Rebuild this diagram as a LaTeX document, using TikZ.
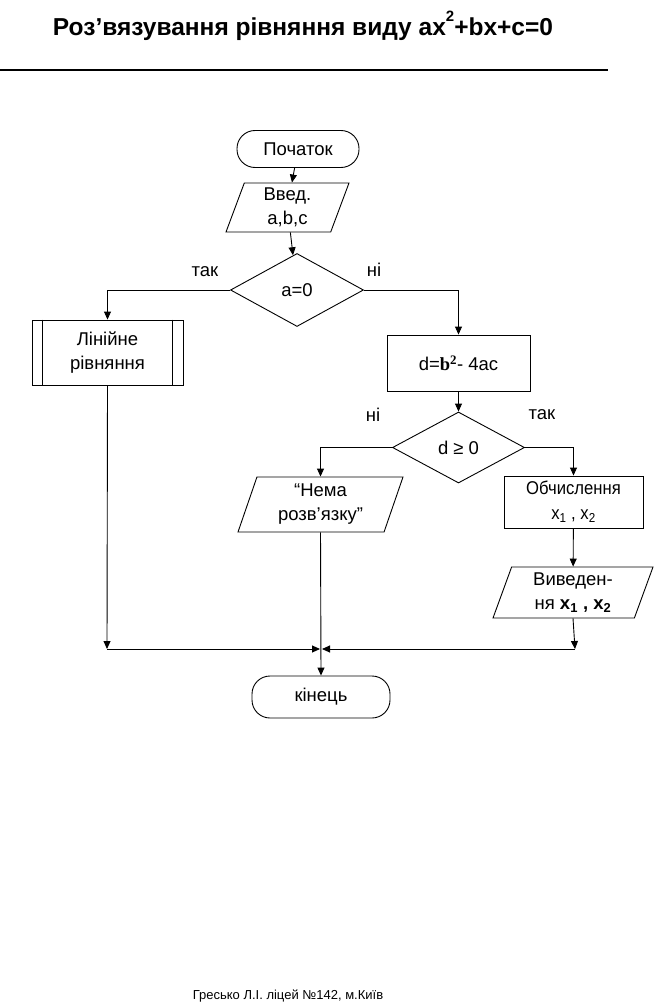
\documentclass[tikz,border=0pt]{standalone}
\usepackage{fontspec}
\setmainfont{Liberation Sans}
\newfontfamily\serifb{Liberation Serif}
\newfontfamily\narrowa[FakeStretch=0.9]{Liberation Sans}
\usetikzlibrary{shapes.geometric,arrows.meta}
\begin{document}
\begin{tikzpicture}[x=1pt,y=-1pt,
  every node/.style={font=\fontsize{18.5}{24}\selectfont, align=center},
  box/.style={draw, line width=0.9pt, inner sep=1pt},
  term/.style={box, rounded corners=18pt},
  io/.style={box, trapezium, trapezium left angle=66, trapezium right angle=114, trapezium stretches body},
  dec/.style={box, diamond, inner sep=0pt},
  line/.style={line width=0.9pt},
  arr/.style={line, -{Triangle[length=8pt,width=7pt]}},
  lbl/.style={font=\fontsize{18.5}{24}\selectfont}]
\useasboundingbox (0,0) rectangle (654,1006);
\node[font=\fontsize{24.5}{28}\selectfont\bfseries] (title) at (303,26) {Роз’вязування рівняння виду ax\raisebox{0.55em}{\fontsize{15}{15}\selectfont 2}+bx+c=0};
\draw[line width=1.5pt] (0,70) coordinate (hl) -- (608,70) coordinate (hr);

\node[term, minimum width=122pt, minimum height=37pt] (start) at (298,149) {Початок};
\node[io, minimum width=123pt, minimum height=49pt] (in) at (287.5,207.5) {Введ.\\a,b,c};
\node[dec, minimum width=133pt, minimum height=73pt] (d1) at (297,290) {a=0};
\node[box, minimum width=151pt, minimum height=65pt] (lin) at (107.5,352.5) {Лінійне\\рівняння};
\draw[line] ([xshift=11pt]lin.north west) -- ([xshift=11pt]lin.south west);
\draw[line] ([xshift=-11pt]lin.north east) -- ([xshift=-11pt]lin.south east);
\node[box, minimum width=143pt, minimum height=56pt] (calc) at (458.5,363) {d={\serifb\bfseries b\textsuperscript{2}}- 4ac};
\node[dec, minimum width=132pt, minimum height=71pt] (d2) at (458.5,447.5) {d ≥ 0};
\node[io, minimum width=165pt, minimum height=55pt] (nema) at (320.5,504.5) {“Нема\\розв’язку”};
\node[box, minimum width=139pt, minimum height=52pt, font=\narrowa\fontsize{18.5}{25}\selectfont] (obch) at (573.5,502) {Обчислення\\x\textsubscript{1} , x\textsubscript{2}};
\node[io, minimum width=160pt, minimum height=51pt] (out) at (573,592.5) {Виведен-\\ня \textbf{x\textsubscript{1} , x\textsubscript{2}}};
\node[term, minimum width=138pt, minimum height=42pt] (end) at (321,697) {кінець};

\coordinate (j1) at (107,649);
\coordinate (jc) at (320,649);
\coordinate (j2) at (575,649);

\draw[arr] (start) -- (in);
\draw[arr] (in) -- (d1);
\draw[arr] (d1.west) -| (lin.north);
\draw[arr] (d1.east) -| (calc.north);
\node[lbl] (tak1) at (205,272) {так};
\node[lbl] (ni1) at (374,270) {ні};
\draw[arr] (calc) -- (d2);
\draw[arr] (d2.west) -| (nema.north);
\draw[arr] (d2.east) -| (obch.north);
\node[lbl] (ni2) at (373,415) {ні};
\node[lbl] (tak2) at (542,415) {так};
\draw[arr] (obch) -- (out);
\draw[arr] (lin.south) -- (j1);
\draw[arr] (j1) -- (jc);
\draw[arr] (out.south) -- (j2);
\draw[arr] (j2) -- ([xshift=2pt]jc);
\draw[arr] (nema.south) -- (end.north);

\node[font=\fontsize{13}{15}\selectfont] (foot) at (288,996) {Гресько Л.І. ліцей №142, м.Київ};
\end{tikzpicture}
\end{document}
